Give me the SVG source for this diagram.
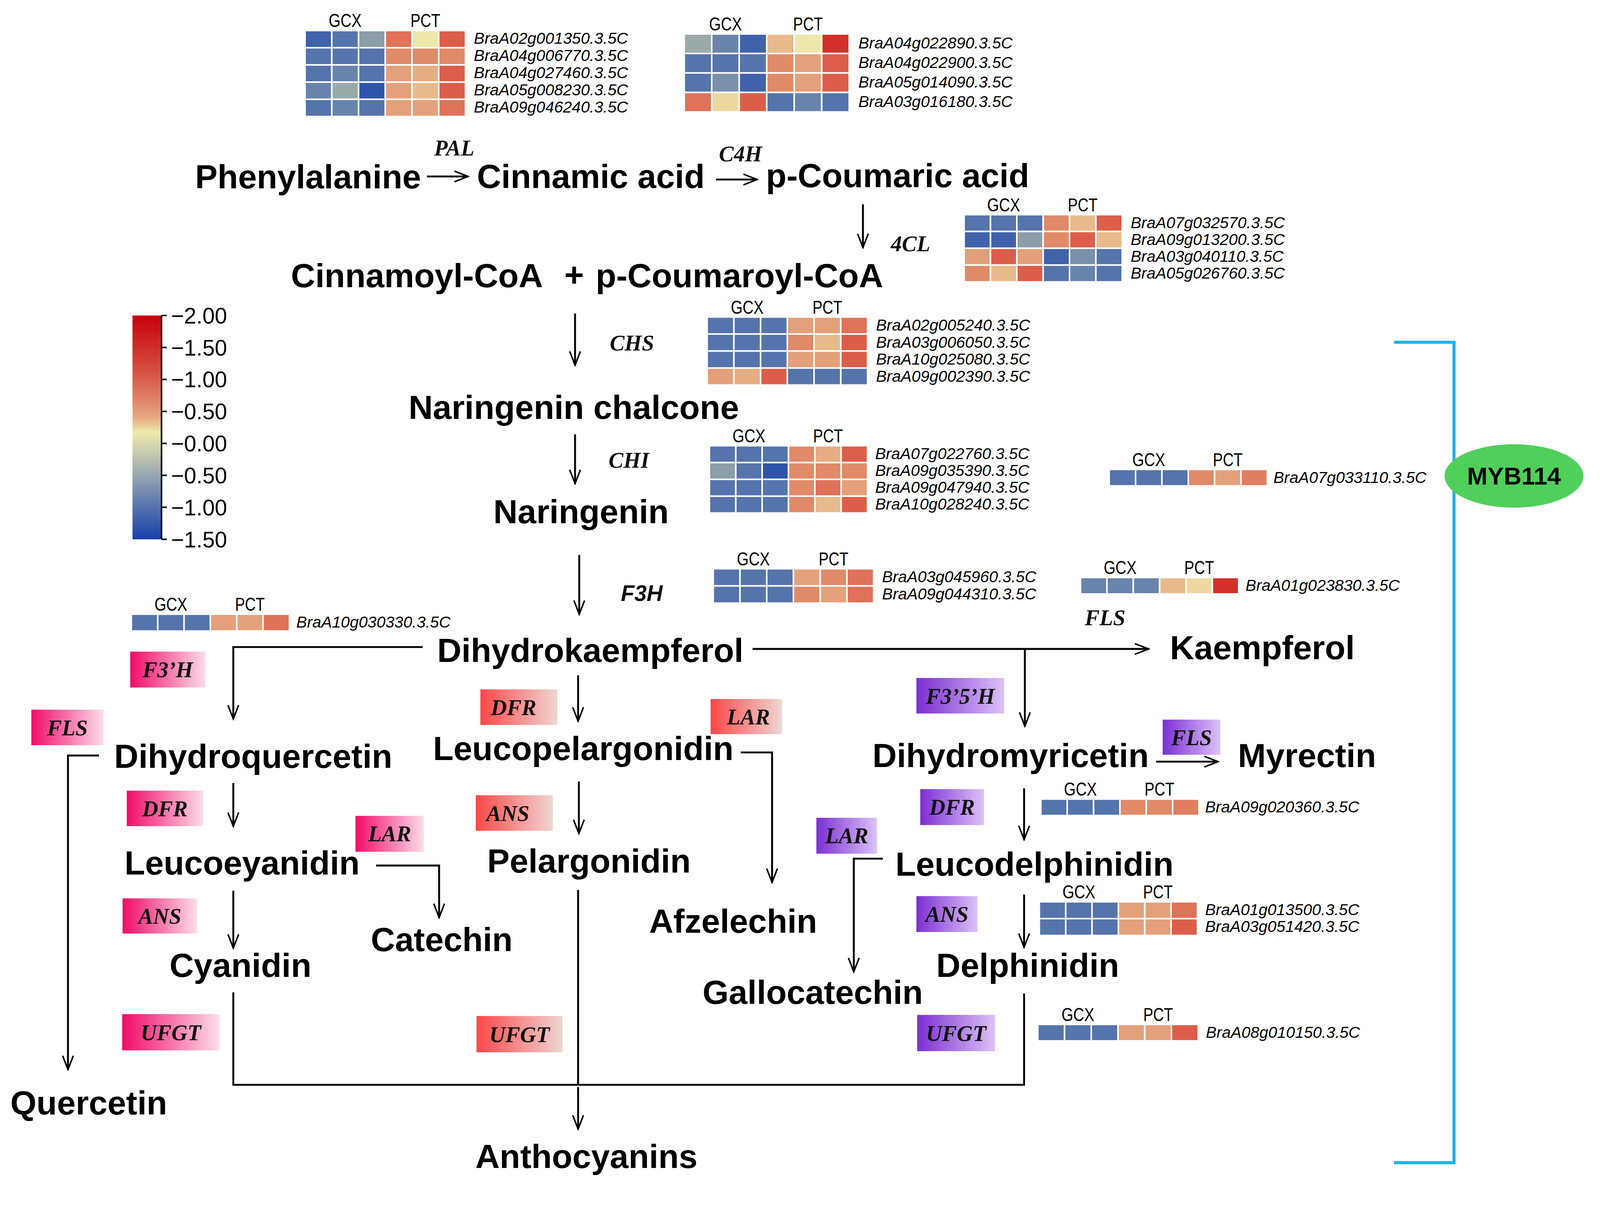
<svg xmlns="http://www.w3.org/2000/svg" width="4176" height="3094" viewBox="0 0 4176 3094">
<style>
.cmp{font-family:"Liberation Sans",Arial,sans-serif;font-weight:bold;font-size:88px;fill:#000}
.enz{font-family:"Liberation Serif","Times New Roman",serif;font-weight:bold;font-style:italic;font-size:58px;fill:#111}
.enzs{font-family:"Liberation Sans",Arial,sans-serif;font-weight:bold;font-style:italic;font-size:58px;fill:#111}
.gene{font-family:"Liberation Sans",Arial,sans-serif;font-style:italic;font-size:42px;fill:#000}
.hdr{font-family:"Liberation Sans",Arial,sans-serif;font-size:50px;fill:#000}
.leg{font-family:"Liberation Sans",Arial,sans-serif;font-size:58px;fill:#000}
.cn{fill:none;stroke:#000;stroke-width:5}
.hm rect{stroke:#fff;stroke-width:4}
.b{fill:#5574ab}.bd{fill:#4062aa}.bb{fill:#2e55aa}.bl{fill:#6984ab}.bg{fill:#7990ab}
.g{fill:#8b9ea9}.gg{fill:#9aaaa9}.o{fill:#e08a68}.o2{fill:#e07e60}.s{fill:#e4a07a}
.s2{fill:#e6ad82}.lo{fill:#e8ba8b}.y{fill:#eee7ab}.y2{fill:#edd8a0}.r{fill:#dc5e4a}
.r2{fill:#df7259}.rr{fill:#d3302b}
</style>
<defs>
<marker id="arr" markerUnits="userSpaceOnUse" markerWidth="44" markerHeight="36" viewBox="0 0 44 36" refX="40" refY="18" orient="auto">
<path d="M4,4 L40,18 L4,32" fill="none" stroke="#000" stroke-width="4"/>
</marker>
<linearGradient id="pinkG" x1="0" y1="0" x2="1" y2="0"><stop offset="0" stop-color="#f00d68"/><stop offset="1" stop-color="#fcdcea"/></linearGradient>
<linearGradient id="redG" x1="0" y1="0" x2="1" y2="0"><stop offset="0" stop-color="#fb4848"/><stop offset="1" stop-color="#eed6d2"/></linearGradient>
<linearGradient id="purG" x1="0" y1="0" x2="1" y2="0"><stop offset="0" stop-color="#7b2fd2"/><stop offset="1" stop-color="#dcc2f6"/></linearGradient>
<linearGradient id="legG" x1="0" y1="0" x2="0" y2="1">
<stop offset="0" stop-color="#c8000c"/><stop offset="0.22" stop-color="#d4463a"/><stop offset="0.38" stop-color="#e0846a"/><stop offset="0.46" stop-color="#e6ac84"/><stop offset="0.52" stop-color="#eeeaa8"/><stop offset="0.62" stop-color="#c4c8b0"/><stop offset="0.72" stop-color="#94a4b0"/><stop offset="0.84" stop-color="#5c78b0"/><stop offset="1" stop-color="#1840a8"/>
</linearGradient>
</defs>
<rect x="0" y="0" width="4176" height="3094" fill="#fff"/>
<g id="diagram" transform="scale(0.9775)">

<!-- connectors -->
<g id="connectors">
<path class="cn" d="M1118,462 H1226" marker-end="url(#arr)"/>
<path class="cn" d="M1875,470 H1983" marker-end="url(#arr)"/>
<path class="cn" d="M2260,535 V648" marker-end="url(#arr)"/>
<path class="cn" d="M1506,821 V956" marker-end="url(#arr)"/>
<path class="cn" d="M1506,1137 V1266" marker-end="url(#arr)"/>
<path class="cn" d="M1517,1453 V1608" marker-end="url(#arr)"/>
<path class="cn" d="M1107,1694 H611 V1882" marker-end="url(#arr)" stroke-width="6"/>
<path class="cn" d="M1514,1768 V1888" marker-end="url(#arr)"/>
<path class="cn" d="M1971,1699 H3008" marker-end="url(#arr)"/>
<path class="cn" d="M2684,1699 V1901" marker-end="url(#arr)"/>
<path class="cn" d="M259,1978 H178 V2800" marker-end="url(#arr)" stroke-width="6"/>
<path class="cn" d="M611,2050 V2163" marker-end="url(#arr)"/>
<path class="cn" d="M1940,1970 H2022 V2310" marker-end="url(#arr)"/>
<path class="cn" d="M1516,2046 V2182" marker-end="url(#arr)"/>
<path class="cn" d="M3028,1994 H3190" stroke-width="7" marker-end="url(#arr)"/>
<path class="cn" d="M2682,2064 V2198" marker-end="url(#arr)"/>
<path class="cn" d="M985,2266 H1150 V2402" marker-end="url(#arr)"/>
<path class="cn" d="M611,2332 V2482" marker-end="url(#arr)"/>
<path class="cn" d="M2312,2248 H2236 V2544" marker-end="url(#arr)"/>
<path class="cn" d="M2682,2342 V2480" marker-end="url(#arr)"/>
<path class="cn" d="M611,2598 V2840 H2682 V2601" stroke-width="7"/>
<path class="cn" d="M1514,2330 V2840"/>
<path class="cn" d="M1514,2846 V2956" marker-end="url(#arr)"/>
<path d="M3651,896 H3808 V3044 H3651" fill="none" stroke="#1eb3e8" stroke-width="8"/>
</g>

<!-- compounds -->
<g id="compounds">
<text id="n-phe" class="cmp" x="511" y="493">Phenylalanine</text>
<text id="n-cin" class="cmp" x="1249" y="492">Cinnamic acid</text>
<text id="n-pcou" class="cmp" x="2006" y="490">p-Coumaric acid</text>
<text id="n-cincoa" class="cmp" x="762" y="752">Cinnamoyl-CoA</text>
<text class="cmp" x="1478" y="750" font-size="46">+</text>
<text id="n-pcoucoa" class="cmp" x="1560" y="752">p-Coumaroyl-CoA</text>
<text id="n-nchal" class="cmp" x="1070" y="1097">Naringenin chalcone</text>
<text id="n-nar" class="cmp" x="1292" y="1370">Naringenin</text>
<text id="n-dhk" class="cmp" x="1145" y="1733">Dihydrokaempferol</text>
<text id="n-kae" class="cmp" x="3064" y="1726">Kaempferol</text>
<text id="n-dhq" class="cmp" x="299" y="2010">Dihydroquercetin</text>
<text id="n-lpg" class="cmp" x="1134" y="1990">Leucopelargonidin</text>
<text id="n-dhm" class="cmp" x="2285" y="2008">Dihydromyricetin</text>
<text id="n-myr" class="cmp" x="3242" y="2008">Myrectin</text>
<text id="n-lcy" class="cmp" x="326" y="2290">Leucoeyanidin</text>
<text id="n-pel" class="cmp" x="1276" y="2284">Pelargonidin</text>
<text id="n-afz" class="cmp" x="1700" y="2442">Afzelechin</text>
<text id="n-ldp" class="cmp" x="2345" y="2293">Leucodelphinidin</text>
<text id="n-cat" class="cmp" x="971" y="2490">Catechin</text>
<text id="n-cya" class="cmp" x="444" y="2558">Cyanidin</text>
<text id="n-gal" class="cmp" x="1840" y="2628">Gallocatechin</text>
<text id="n-del" class="cmp" x="2452" y="2558">Delphinidin</text>
<text id="n-que" class="cmp" x="27" y="2918">Quercetin</text>
<text id="n-ant" class="cmp" x="1245" y="3058">Anthocyanins</text>
</g>

<!-- plain enzyme labels -->
<g id="enzymes">
<text class="enz" x="1137" y="407">PAL</text>
<text class="enz" x="1883" y="423">C4H</text>
<text class="enz" x="2333" y="658">4CL</text>
<text class="enz" x="1597" y="918">CHS</text>
<text class="enz" x="1594" y="1225">CHI</text>
<text class="enzs" x="1626" y="1573">F3H</text>
<text class="enz" x="2841" y="1637">FLS</text>
</g>

<!-- enzyme boxes -->
<g id="box-f3h"><rect x="341" y="1706" width="197" height="94" fill="url(#pinkG)"/><text class="enz" x="439.5" y="1773" text-anchor="middle">F3’H</text></g>
<g id="box-fls1"><rect x="82" y="1858" width="189" height="93" fill="url(#pinkG)"/><text class="enz" x="176.5" y="1925" text-anchor="middle">FLS</text></g>
<g id="box-dfr1"><rect x="332" y="2070" width="200" height="93" fill="url(#pinkG)"/><text class="enz" x="432" y="2137" text-anchor="middle">DFR</text></g>
<g id="box-lar1"><rect x="931" y="2136" width="179" height="94" fill="url(#pinkG)"/><text class="enz" x="1020.5" y="2203" text-anchor="middle">LAR</text></g>
<g id="box-ans1"><rect x="321" y="2352" width="195" height="92" fill="url(#pinkG)"/><text class="enz" x="418.5" y="2418" text-anchor="middle">ANS</text></g>
<g id="box-ufgt1"><rect x="320" y="2655" width="255" height="95" fill="url(#pinkG)"/><text class="enz" x="447.5" y="2723" text-anchor="middle">UFGT</text></g>
<g id="box-dfr2"><rect x="1258" y="1805" width="202" height="93" fill="url(#redG)"/><text class="enz" x="1345" y="1872" text-anchor="middle">DFR</text></g>
<g id="box-lar2"><rect x="1861" y="1830" width="187" height="92" fill="url(#redG)"/><text class="enz" x="1960" y="1897" text-anchor="middle">LAR</text></g>
<g id="box-ans2"><rect x="1246" y="2082" width="202" height="93" fill="url(#redG)"/><text class="enz" x="1330" y="2149" text-anchor="middle">ANS</text></g>
<g id="box-ufgt2"><rect x="1248" y="2660" width="225" height="95" fill="url(#redG)"/><text class="enz" x="1360.5" y="2728" text-anchor="middle">UFGT</text></g>
<g id="box-f35h"><rect x="2400" y="1775" width="230" height="93" fill="url(#purG)"/><text class="enz" x="2515" y="1842" text-anchor="middle">F3’5’H</text></g>
<g id="box-fls3"><rect x="3045" y="1884" width="151" height="92" fill="url(#purG)"/><text class="enz" x="3120.5" y="1951" text-anchor="middle">FLS</text></g>
<g id="box-dfr3"><rect x="2410" y="2066" width="167" height="94" fill="url(#purG)"/><text class="enz" x="2493.5" y="2133" text-anchor="middle">DFR</text></g>
<g id="box-lar3"><rect x="2138" y="2141" width="159" height="94" fill="url(#purG)"/><text class="enz" x="2217.5" y="2208" text-anchor="middle">LAR</text></g>
<g id="box-ans3"><rect x="2400" y="2346" width="160" height="94" fill="url(#purG)"/><text class="enz" x="2480" y="2413" text-anchor="middle">ANS</text></g>
<g id="box-ufgt3"><rect x="2402" y="2657" width="204" height="95" fill="url(#purG)"/><text class="enz" x="2504" y="2725" text-anchor="middle">UFGT</text></g>

<!-- MYB114 -->
<g id="myb114">
<ellipse cx="3965" cy="1246" rx="182" ry="83" fill="#4fd05a"/>
<text x="3965" y="1269" text-anchor="middle" font-family="Liberation Sans, Arial, sans-serif" font-weight="bold" font-size="64">MYB114</text>
</g>

<!-- legend -->
<g id="legend">
<rect x="347" y="826" width="76" height="586" fill="url(#legG)"/>
<path d="M423,826 V1412 M423,826 H437 M423,909.7 H437 M423,993.4 H437 M423,1077.1 H437 M423,1160.8 H437 M423,1244.5 H437 M423,1328.2 H437 M423,1412 H437" stroke="#000" stroke-width="4" fill="none"/>
<text class="leg" x="448" y="847">−2.00</text>
<text class="leg" x="448" y="931">−1.50</text>
<text class="leg" x="448" y="1014">−1.00</text>
<text class="leg" x="448" y="1098">−0.50</text>
<text class="leg" x="448" y="1182">−0.00</text>
<text class="leg" x="448" y="1266">−0.50</text>
<text class="leg" x="448" y="1349">−1.00</text>
<text class="leg" x="448" y="1433">−1.50</text>
</g>

<!-- heatmap A -->
<g id="hm-a" class="hm" transform="translate(799,80)">
<text class="hdr" x="105" y="-9" text-anchor="middle" textLength="86" lengthAdjust="spacingAndGlyphs">GCX</text>
<text class="hdr" x="315" y="-9" text-anchor="middle" textLength="78" lengthAdjust="spacingAndGlyphs">PCT</text>
<rect class="bd" x="0" y="0" width="70" height="45"/><rect class="b" x="70" y="0" width="70" height="45"/><rect class="g" x="140" y="0" width="70" height="45"/><rect class="r2" x="210" y="0" width="70" height="45"/><rect class="y" x="280" y="0" width="70" height="45"/><rect class="r" x="350" y="0" width="70" height="45"/>
<rect class="b" x="0" y="45" width="70" height="45"/><rect class="b" x="70" y="45" width="70" height="45"/><rect class="b" x="140" y="45" width="70" height="45"/><rect class="o" x="210" y="45" width="70" height="45"/><rect class="o" x="280" y="45" width="70" height="45"/><rect class="o" x="350" y="45" width="70" height="45"/>
<rect class="b" x="0" y="90" width="70" height="45"/><rect class="bl" x="70" y="90" width="70" height="45"/><rect class="b" x="140" y="90" width="70" height="45"/><rect class="s" x="210" y="90" width="70" height="45"/><rect class="s2" x="280" y="90" width="70" height="45"/><rect class="r" x="350" y="90" width="70" height="45"/>
<rect class="bl" x="0" y="135" width="70" height="45"/><rect class="gg" x="70" y="135" width="70" height="45"/><rect class="bb" x="140" y="135" width="70" height="45"/><rect class="s" x="210" y="135" width="70" height="45"/><rect class="lo" x="280" y="135" width="70" height="45"/><rect class="r" x="350" y="135" width="70" height="45"/>
<rect class="b" x="0" y="180" width="70" height="45"/><rect class="bl" x="70" y="180" width="70" height="45"/><rect class="b" x="140" y="180" width="70" height="45"/><rect class="s" x="210" y="180" width="70" height="45"/><rect class="s" x="280" y="180" width="70" height="45"/><rect class="r2" x="350" y="180" width="70" height="45"/>
<text class="gene" x="442" y="35">BraA02g001350.3.5C</text>
<text class="gene" x="442" y="80">BraA04g006770.3.5C</text>
<text class="gene" x="442" y="125">BraA04g027460.3.5C</text>
<text class="gene" x="442" y="170">BraA05g008230.3.5C</text>
<text class="gene" x="442" y="215">BraA09g046240.3.5C</text>
</g>

<!-- heatmap B -->
<g id="hm-b" class="hm" transform="translate(1792,89)">
<text class="hdr" x="108" y="-9" text-anchor="middle" textLength="86" lengthAdjust="spacingAndGlyphs">GCX</text>
<text class="hdr" x="324" y="-9" text-anchor="middle" textLength="78" lengthAdjust="spacingAndGlyphs">PCT</text>
<rect class="gg" x="0" y="0" width="72" height="51"/><rect class="bl" x="72" y="0" width="72" height="51"/><rect class="bd" x="144" y="0" width="72" height="51"/><rect class="lo" x="216" y="0" width="72" height="51"/><rect class="y" x="288" y="0" width="72" height="51"/><rect class="rr" x="360" y="0" width="72" height="51"/>
<rect class="b" x="0" y="51" width="72" height="51"/><rect class="b" x="72" y="51" width="72" height="51"/><rect class="b" x="144" y="51" width="72" height="51"/><rect class="o" x="216" y="51" width="72" height="51"/><rect class="s" x="288" y="51" width="72" height="51"/><rect class="r" x="360" y="51" width="72" height="51"/>
<rect class="b" x="0" y="102" width="72" height="51"/><rect class="bg" x="72" y="102" width="72" height="51"/><rect class="bd" x="144" y="102" width="72" height="51"/><rect class="o" x="216" y="102" width="72" height="51"/><rect class="s" x="288" y="102" width="72" height="51"/><rect class="r" x="360" y="102" width="72" height="51"/>
<rect class="r2" x="0" y="153" width="72" height="51"/><rect class="y2" x="72" y="153" width="72" height="51"/><rect class="r" x="144" y="153" width="72" height="51"/><rect class="b" x="216" y="153" width="72" height="51"/><rect class="bl" x="288" y="153" width="72" height="51"/><rect class="b" x="360" y="153" width="72" height="51"/>
<text class="gene" x="456" y="38">BraA04g022890.3.5C</text>
<text class="gene" x="456" y="89">BraA04g022900.3.5C</text>
<text class="gene" x="456" y="140">BraA05g014090.3.5C</text>
<text class="gene" x="456" y="191">BraA03g016180.3.5C</text>
</g>

<!-- heatmap C (4CL) -->
<g id="hm-c" class="hm" transform="translate(2525,562)">
<text class="hdr" x="103.5" y="-9" text-anchor="middle" textLength="86" lengthAdjust="spacingAndGlyphs">GCX</text>
<text class="hdr" x="310.5" y="-9" text-anchor="middle" textLength="78" lengthAdjust="spacingAndGlyphs">PCT</text>
<rect class="b" x="0" y="0" width="69" height="44"/><rect class="b" x="69" y="0" width="69" height="44"/><rect class="b" x="138" y="0" width="69" height="44"/><rect class="o" x="207" y="0" width="69" height="44"/><rect class="lo" x="276" y="0" width="69" height="44"/><rect class="r" x="345" y="0" width="69" height="44"/>
<rect class="bd" x="0" y="44" width="69" height="44"/><rect class="bd" x="69" y="44" width="69" height="44"/><rect class="g" x="138" y="44" width="69" height="44"/><rect class="o" x="207" y="44" width="69" height="44"/><rect class="r" x="276" y="44" width="69" height="44"/><rect class="lo" x="345" y="44" width="69" height="44"/>
<rect class="s" x="0" y="88" width="69" height="44"/><rect class="r" x="69" y="88" width="69" height="44"/><rect class="s" x="138" y="88" width="69" height="44"/><rect class="bd" x="207" y="88" width="69" height="44"/><rect class="bg" x="276" y="88" width="69" height="44"/><rect class="b" x="345" y="88" width="69" height="44"/>
<rect class="o" x="0" y="132" width="69" height="44"/><rect class="lo" x="69" y="132" width="69" height="44"/><rect class="r" x="138" y="132" width="69" height="44"/><rect class="b" x="207" y="132" width="69" height="44"/><rect class="bl" x="276" y="132" width="69" height="44"/><rect class="b" x="345" y="132" width="69" height="44"/>
<text class="gene" x="436" y="35">BraA07g032570.3.5C</text>
<text class="gene" x="436" y="79">BraA09g013200.3.5C</text>
<text class="gene" x="436" y="123">BraA03g040110.3.5C</text>
<text class="gene" x="436" y="167">BraA05g026760.3.5C</text>
</g>

<!-- heatmap D (CHS) -->
<g id="hm-d" class="hm" transform="translate(1852,830)">
<text class="hdr" x="105" y="-9" text-anchor="middle" textLength="86" lengthAdjust="spacingAndGlyphs">GCX</text>
<text class="hdr" x="315" y="-9" text-anchor="middle" textLength="78" lengthAdjust="spacingAndGlyphs">PCT</text>
<rect class="b" x="0" y="0" width="70" height="44.5"/><rect class="b" x="70" y="0" width="70" height="44.5"/><rect class="b" x="140" y="0" width="70" height="44.5"/><rect class="s" x="210" y="0" width="70" height="44.5"/><rect class="s" x="280" y="0" width="70" height="44.5"/><rect class="r2" x="350" y="0" width="70" height="44.5"/>
<rect class="b" x="0" y="44.5" width="70" height="44.5"/><rect class="b" x="70" y="44.5" width="70" height="44.5"/><rect class="b" x="140" y="44.5" width="70" height="44.5"/><rect class="o" x="210" y="44.5" width="70" height="44.5"/><rect class="lo" x="280" y="44.5" width="70" height="44.5"/><rect class="r" x="350" y="44.5" width="70" height="44.5"/>
<rect class="b" x="0" y="89" width="70" height="44.5"/><rect class="b" x="70" y="89" width="70" height="44.5"/><rect class="b" x="140" y="89" width="70" height="44.5"/><rect class="s" x="210" y="89" width="70" height="44.5"/><rect class="s" x="280" y="89" width="70" height="44.5"/><rect class="r" x="350" y="89" width="70" height="44.5"/>
<rect class="s" x="0" y="133.5" width="70" height="44.5"/><rect class="s2" x="70" y="133.5" width="70" height="44.5"/><rect class="r" x="140" y="133.5" width="70" height="44.5"/><rect class="b" x="210" y="133.5" width="70" height="44.5"/><rect class="b" x="280" y="133.5" width="70" height="44.5"/><rect class="b" x="350" y="133.5" width="70" height="44.5"/>
<text class="gene" x="442" y="35">BraA02g005240.3.5C</text>
<text class="gene" x="442" y="80">BraA03g006050.3.5C</text>
<text class="gene" x="442" y="124">BraA10g025080.3.5C</text>
<text class="gene" x="442" y="169">BraA09g002390.3.5C</text>
</g>

<!-- heatmap E (CHI) -->
<g id="hm-e" class="hm" transform="translate(1858,1167)">
<text class="hdr" x="103.5" y="-9" text-anchor="middle" textLength="86" lengthAdjust="spacingAndGlyphs">GCX</text>
<text class="hdr" x="310.5" y="-9" text-anchor="middle" textLength="78" lengthAdjust="spacingAndGlyphs">PCT</text>
<rect class="b" x="0" y="0" width="69" height="44"/><rect class="b" x="69" y="0" width="69" height="44"/><rect class="b" x="138" y="0" width="69" height="44"/><rect class="o" x="207" y="0" width="69" height="44"/><rect class="s2" x="276" y="0" width="69" height="44"/><rect class="r" x="345" y="0" width="69" height="44"/>
<rect class="g" x="0" y="44" width="69" height="44"/><rect class="b" x="69" y="44" width="69" height="44"/><rect class="bb" x="138" y="44" width="69" height="44"/><rect class="o" x="207" y="44" width="69" height="44"/><rect class="o" x="276" y="44" width="69" height="44"/><rect class="o" x="345" y="44" width="69" height="44"/>
<rect class="b" x="0" y="88" width="69" height="44"/><rect class="b" x="69" y="88" width="69" height="44"/><rect class="b" x="138" y="88" width="69" height="44"/><rect class="o" x="207" y="88" width="69" height="44"/><rect class="r2" x="276" y="88" width="69" height="44"/><rect class="s" x="345" y="88" width="69" height="44"/>
<rect class="b" x="0" y="132" width="69" height="44"/><rect class="b" x="69" y="132" width="69" height="44"/><rect class="b" x="138" y="132" width="69" height="44"/><rect class="o" x="207" y="132" width="69" height="44"/><rect class="lo" x="276" y="132" width="69" height="44"/><rect class="r" x="345" y="132" width="69" height="44"/>
<text class="gene" x="434" y="35">BraA07g022760.3.5C</text>
<text class="gene" x="434" y="79">BraA09g035390.3.5C</text>
<text class="gene" x="434" y="123">BraA09g047940.3.5C</text>
<text class="gene" x="434" y="167">BraA10g028240.3.5C</text>
</g>

<!-- heatmap F (F3H) -->
<g id="hm-f" class="hm" transform="translate(1868,1489)">
<text class="hdr" x="105" y="-9" text-anchor="middle" textLength="86" lengthAdjust="spacingAndGlyphs">GCX</text>
<text class="hdr" x="315" y="-9" text-anchor="middle" textLength="78" lengthAdjust="spacingAndGlyphs">PCT</text>
<rect class="b" x="0" y="0" width="70" height="45"/><rect class="b" x="70" y="0" width="70" height="45"/><rect class="b" x="140" y="0" width="70" height="45"/><rect class="s" x="210" y="0" width="70" height="45"/><rect class="o" x="280" y="0" width="70" height="45"/><rect class="r2" x="350" y="0" width="70" height="45"/>
<rect class="b" x="0" y="45" width="70" height="45"/><rect class="b" x="70" y="45" width="70" height="45"/><rect class="b" x="140" y="45" width="70" height="45"/><rect class="o" x="210" y="45" width="70" height="45"/><rect class="s" x="280" y="45" width="70" height="45"/><rect class="r2" x="350" y="45" width="70" height="45"/>
<text class="gene" x="442" y="35">BraA03g045960.3.5C</text>
<text class="gene" x="442" y="80">BraA09g044310.3.5C</text>
</g>

<!-- heatmap G (F3'H) -->
<g id="hm-g" class="hm" transform="translate(344,1608)">
<text class="hdr" x="103.5" y="-9" text-anchor="middle" textLength="86" lengthAdjust="spacingAndGlyphs">GCX</text>
<text class="hdr" x="310.5" y="-9" text-anchor="middle" textLength="78" lengthAdjust="spacingAndGlyphs">PCT</text>
<rect class="b" x="0" y="0" width="69" height="44"/><rect class="b" x="69" y="0" width="69" height="44"/><rect class="b" x="138" y="0" width="69" height="44"/><rect class="s" x="207" y="0" width="69" height="44"/><rect class="s" x="276" y="0" width="69" height="44"/><rect class="r2" x="345" y="0" width="69" height="44"/>
<text class="gene" x="432" y="35">BraA10g030330.3.5C</text>
</g>

<!-- heatmap H (FLS) -->
<g id="hm-h" class="hm" transform="translate(2830,1512)">
<text class="hdr" x="103.5" y="-9" text-anchor="middle" textLength="86" lengthAdjust="spacingAndGlyphs">GCX</text>
<text class="hdr" x="310.5" y="-9" text-anchor="middle" textLength="78" lengthAdjust="spacingAndGlyphs">PCT</text>
<rect class="bl" x="0" y="0" width="69" height="43"/><rect class="bl" x="69" y="0" width="69" height="43"/><rect class="bl" x="138" y="0" width="69" height="43"/><rect class="lo" x="207" y="0" width="69" height="43"/><rect class="y2" x="276" y="0" width="69" height="43"/><rect class="rr" x="345" y="0" width="69" height="43"/>
<text class="gene" x="432" y="35">BraA01g023830.3.5C</text>
</g>

<!-- heatmap I (MYB114) -->
<g id="hm-i" class="hm" transform="translate(2905,1229)">
<text class="hdr" x="103.5" y="-9" text-anchor="middle" textLength="86" lengthAdjust="spacingAndGlyphs">GCX</text>
<text class="hdr" x="310.5" y="-9" text-anchor="middle" textLength="78" lengthAdjust="spacingAndGlyphs">PCT</text>
<rect class="b" x="0" y="0" width="69" height="43"/><rect class="b" x="69" y="0" width="69" height="43"/><rect class="b" x="138" y="0" width="69" height="43"/><rect class="o" x="207" y="0" width="69" height="43"/><rect class="s" x="276" y="0" width="69" height="43"/><rect class="o2" x="345" y="0" width="69" height="43"/>
<text class="gene" x="430" y="35">BraA07g033110.3.5C</text>
</g>

<!-- heatmap J (DFR) -->
<g id="hm-j" class="hm" transform="translate(2726,2092)">
<text class="hdr" x="103.5" y="-9" text-anchor="middle" textLength="86" lengthAdjust="spacingAndGlyphs">GCX</text>
<text class="hdr" x="310.5" y="-9" text-anchor="middle" textLength="78" lengthAdjust="spacingAndGlyphs">PCT</text>
<rect class="b" x="0" y="0" width="69" height="43"/><rect class="b" x="69" y="0" width="69" height="43"/><rect class="b" x="138" y="0" width="69" height="43"/><rect class="o" x="207" y="0" width="69" height="43"/><rect class="o" x="276" y="0" width="69" height="43"/><rect class="o2" x="345" y="0" width="69" height="43"/>
<text class="gene" x="430" y="35">BraA09g020360.3.5C</text>
</g>

<!-- heatmap K (ANS) -->
<g id="hm-k" class="hm" transform="translate(2722,2361)">
<text class="hdr" x="103.5" y="-9" text-anchor="middle" textLength="86" lengthAdjust="spacingAndGlyphs">GCX</text>
<text class="hdr" x="310.5" y="-9" text-anchor="middle" textLength="78" lengthAdjust="spacingAndGlyphs">PCT</text>
<rect class="b" x="0" y="0" width="69" height="44"/><rect class="b" x="69" y="0" width="69" height="44"/><rect class="b" x="138" y="0" width="69" height="44"/><rect class="s" x="207" y="0" width="69" height="44"/><rect class="s" x="276" y="0" width="69" height="44"/><rect class="r2" x="345" y="0" width="69" height="44"/>
<rect class="b" x="0" y="44" width="69" height="44"/><rect class="b" x="69" y="44" width="69" height="44"/><rect class="b" x="138" y="44" width="69" height="44"/><rect class="s" x="207" y="44" width="69" height="44"/><rect class="s" x="276" y="44" width="69" height="44"/><rect class="r" x="345" y="44" width="69" height="44"/>
<text class="gene" x="434" y="35">BraA01g013500.3.5C</text>
<text class="gene" x="434" y="79">BraA03g051420.3.5C</text>
</g>

<!-- heatmap L (UFGT) -->
<g id="hm-l" class="hm" transform="translate(2718,2682)">
<text class="hdr" x="105" y="-9" text-anchor="middle" textLength="86" lengthAdjust="spacingAndGlyphs">GCX</text>
<text class="hdr" x="315" y="-9" text-anchor="middle" textLength="78" lengthAdjust="spacingAndGlyphs">PCT</text>
<rect class="b" x="0" y="0" width="70" height="43"/><rect class="b" x="70" y="0" width="70" height="43"/><rect class="b" x="140" y="0" width="70" height="43"/><rect class="s" x="210" y="0" width="70" height="43"/><rect class="s" x="280" y="0" width="70" height="43"/><rect class="r" x="350" y="0" width="70" height="43"/>
<text class="gene" x="440" y="35">BraA08g010150.3.5C</text>
</g>
</g>
</svg>
